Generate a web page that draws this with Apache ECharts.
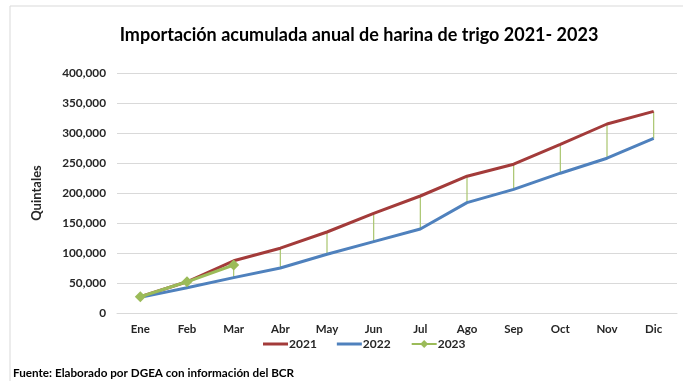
<!DOCTYPE html>
<html>
<head>
<meta charset="utf-8">
<script src="https://cdn.jsdelivr.net/npm/echarts@6/dist/echarts.min.js"></script>
<style>
  html, body { margin: 0; padding: 0; background: #ffffff; }
  #chart { width: 683px; height: 381px; }
</style>
</head>
<body>
<div id="chart"></div>
<script>
// Meses
const months = ['Ene', 'Feb', 'Mar', 'Abr', 'May', 'Jun', 'Jul', 'Ago', 'Sep', 'Oct', 'Nov', 'Dic'];

// Importación acumulada (quintales)
const imp2021 = [27000, 52000, 87000, 108000, 135000, 166000, 195000, 228000, 248000, 281000, 315000, 336000];
const imp2022 = [26000, 42000, 59000, 75000, 98000, 119000, 140000, 184000, 206000, 233000, 258000, 291000];
const imp2023 = [27000, 52000, 80000];

// Eje vertical
const yMin = 0, yMax = 400000, yStep = 50000;

const FONT = 'Lato, "Open Sans", sans-serif';
const TXT = '#262626';
const LINE_ICON = 'path://M0,0 L25,0 L25,3 L0,3 Z';

// Líneas máx-mín por mes entre todas las series
const hiLo = months.map((m, i) => {
  const vals = [imp2021[i], imp2022[i], imp2023[i]].filter(v => v != null);
  return [i, Math.min.apply(null, vals), Math.max.apply(null, vals)];
});

const chart = echarts.init(document.getElementById('chart'));
chart.setOption({
  animation: false,
  backgroundColor: '#ffffff',
  title: {
    text: 'Importación acumulada anual de harina de trigo 2021- 2023',
    left: 354, top: 21, textAlign: 'center',
    textStyle: { fontFamily: FONT, fontWeight: 'bold', fontSize: 18, color: '#000' }
  },
  graphic: [
    { type: 'rect', shape: { x: 10, y: 6, width: 700, height: 400 },
      style: { fill: 'none', stroke: '#d9d9d9', lineWidth: 1 }, z: -1 },
    { type: 'text', left: 13, top: 367,
      style: { text: 'Fuente: Elaborado por DGEA con información del BCR',
               font: 'bold 11.7px ' + FONT, fill: '#000' } }
  ],
  legend: {
    bottom: 26, left: 258, itemWidth: 25, itemHeight: 10, itemGap: 20,
    textStyle: { fontFamily: FONT, fontWeight: 'bold', fontSize: 12, color: TXT, padding: [0, 0, 0, -4] },
    data: [
      { name: '2021', icon: LINE_ICON },
      { name: '2022', icon: LINE_ICON },
      { name: '2023' }
    ]
  },
  grid: { left: 117, right: 6, top: 73, bottom: 68 },
  xAxis: {
    type: 'category', data: months, boundaryGap: true,
    axisLine: { show: true, lineStyle: { color: '#d9d9d9' } },
    axisTick: { show: false },
    axisLabel: { fontFamily: FONT, fontWeight: 'bold', fontSize: 11.5, color: TXT, margin: 10 }
  },
  yAxis: {
    type: 'value', min: yMin, max: yMax, interval: yStep,
    name: 'Quintales', nameLocation: 'middle', nameGap: 74, nameRotate: 90,
    nameTextStyle: { fontFamily: FONT, fontWeight: 'bold', fontSize: 13, color: TXT },
    axisLine: { show: false }, axisTick: { show: false },
    splitLine: { lineStyle: { color: '#d9d9d9', width: 1 } },
    axisLabel: {
      fontFamily: FONT, fontWeight: 'bold', fontSize: 11.8, color: TXT, margin: 11,
      formatter: v => v.toLocaleString('en-US')
    }
  },
  series: [
    {
      name: 'hilo', type: 'custom', data: hiLo, z: 1, silent: true,
      renderItem: (params, api) => {
        const top = api.coord([api.value(0), api.value(2)]);
        const bot = api.coord([api.value(0), api.value(1)]);
        return { type: 'line', shape: { x1: top[0], y1: top[1], x2: bot[0], y2: bot[1] },
                 style: { stroke: '#a9c56e', lineWidth: 1.2 } };
      }
    },
    {
      name: '2021', type: 'line', data: imp2021, z: 3,
      showSymbol: false, symbol: 'none',
      itemStyle: { color: '#a33b3a' }, lineStyle: { color: '#a33b3a', width: 3 }
    },
    {
      name: '2022', type: 'line', data: imp2022, z: 3,
      showSymbol: false, symbol: 'none',
      itemStyle: { color: '#4f81bd' }, lineStyle: { color: '#4f81bd', width: 3 }
    },
    {
      name: '2023', type: 'line', data: imp2023, z: 4,
      symbol: 'diamond', symbolSize: 11,
      itemStyle: { color: '#9bbb59' }, lineStyle: { color: '#9bbb59', width: 3 }
    }
  ]
});
</script>
</body>
</html>
